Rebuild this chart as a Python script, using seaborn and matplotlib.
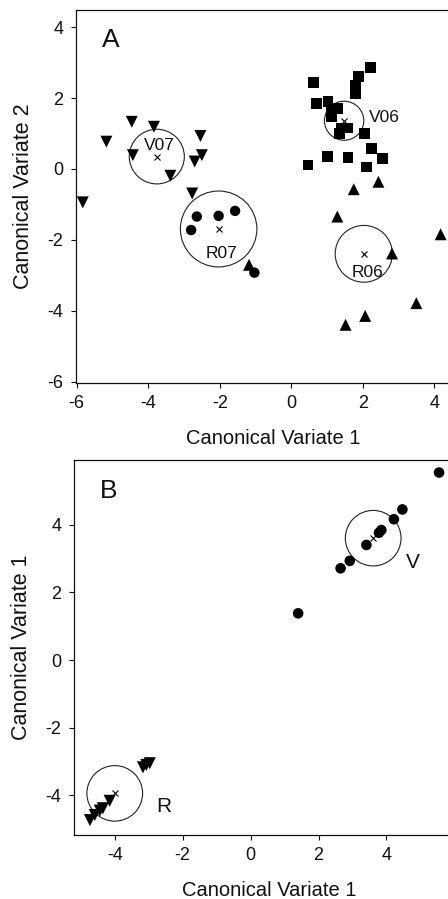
import numpy as np
import pandas as pd
import matplotlib
matplotlib.use("Agg")
import matplotlib.pyplot as plt
from matplotlib.patches import Circle
import seaborn as sns

# ---------------- Data: panel A ----------------
a_v07_x = [-5.83, -5.17, -4.46, -4.43, -3.84, -3.38, -2.70, -2.54, -2.50, -2.77]
a_v07_y = [-0.94, 0.77, 1.33, 0.39, 1.19, -0.19, 0.21, 0.93, 0.39, -0.69]
a_r07_x = [-2.80, -2.64, -2.03, -1.57, -1.03]
a_r07_y = [-1.72, -1.34, -1.32, -1.18, -2.92]
a_v06_x = [2.21, 1.89, 1.80, 1.80, 0.63, 0.70, 1.03, 1.12, 1.31, 1.12,
           1.40, 1.59, 1.35, 2.05, 2.24, 2.56, 1.01, 1.59, 2.10, 0.47]
a_v06_y = [2.86, 2.60, 2.37, 2.13, 2.44, 1.85, 1.90, 1.66, 1.71, 1.47,
           1.15, 1.15, 1.00, 1.00, 0.58, 0.30, 0.35, 0.32, 0.06, 0.11]
a_r06_x = [1.75, 2.44, 1.29, 2.82, 4.18, 3.50, 2.07, 1.52, -1.18]
a_r06_y = [-0.57, -0.36, -1.34, -2.38, -1.84, -3.78, -4.14, -4.39, -2.70]

a_groups = ["V07", "R07", "V06", "R06"]
a_cent_x = [-3.76, -2.03, 1.48, 2.03]
a_cent_y = [0.35, -1.69, 1.36, -2.39]
a_radius = [0.77, 1.07, 0.55, 0.80]
a_label_x = [-3.69, -1.96, 2.61, 2.14]
a_label_y = [0.65, -2.37, 1.46, -2.92]

# ---------------- Data: panel B ----------------
b_v_x = [1.40, 2.65, 2.92, 3.41, 3.78, 3.85, 4.22, 4.47, 5.55]
b_v_y = [1.38, 2.71, 2.93, 3.40, 3.76, 3.84, 4.16, 4.45, 5.54]
b_r_x = [-4.73, -4.59, -4.44, -4.35, -4.15, -3.17, -3.07, -2.97]
b_r_y = [-4.73, -4.58, -4.45, -4.38, -4.16, -3.17, -3.10, -3.05]

b_groups = ["V", "R"]
b_cent_x = [3.61, -4.00]
b_cent_y = [3.60, -3.94]
b_radius = [0.82, 0.82]
b_label_x = [4.78, -2.55]
b_label_y = [2.87, -4.32]

ticks_a_x = [-6, -4, -2, 0, 2, 4]
ticks_a_y = [-6, -4, -2, 0, 2, 4]
ticks_b_x = [-4, -2, 0, 2, 4]
ticks_b_y = [-4, -2, 0, 2, 4]

# ---------------- Style ----------------
sns.set_style("ticks")
plt.rcParams["font.family"] = ["Liberation Sans", "DejaVu Sans"]
plt.rcParams["axes.linewidth"] = 0.9
plt.rcParams["xtick.major.width"] = 0.8
plt.rcParams["ytick.major.width"] = 0.8

fig = plt.figure(figsize=(4.48, 8.99), dpi=100)
W, H = 448.0, 899.0

# Panel A axes: left 76px, top 10px, bottom 383px; 35.75 px per x unit
a_xlim = (-6.02, 5.0)
a_ylim = (-6.03, 4.48)
a_w = (a_xlim[1] - a_xlim[0]) * 35.75
axA = fig.add_axes([76 / W, (H - 383) / H, a_w / W, 373 / H])

# Panel B axes: left 74px, top 460px, bottom 835px; 33.96 px per x unit
b_xlim = (-5.2, 6.3)
b_ylim = (-5.17, 5.91)
b_w = (b_xlim[1] - b_xlim[0]) * 33.96
axB = fig.add_axes([74 / W, (H - 835) / H, b_w / W, 375 / H])

dfA = pd.concat([
    pd.DataFrame({"x": a_v07_x, "y": a_v07_y, "g": "V07"}),
    pd.DataFrame({"x": a_r07_x, "y": a_r07_y, "g": "R07"}),
    pd.DataFrame({"x": a_v06_x, "y": a_v06_y, "g": "V06"}),
    pd.DataFrame({"x": a_r06_x, "y": a_r06_y, "g": "R06"}),
], ignore_index=True)
markA = {"V07": "v", "R07": "o", "V06": "s", "R06": "^"}
sizeA = {"V07": 74, "R07": 56, "V06": 58, "R06": 74}
for g in a_groups:
    sub = dfA[dfA["g"] == g]
    sns.scatterplot(data=sub, x="x", y="y", marker=markA[g], s=sizeA[g],
                    color="black", edgecolor="none", linewidth=0,
                    legend=False, ax=axA, zorder=3, clip_on=False)

dfB = pd.concat([
    pd.DataFrame({"x": b_v_x, "y": b_v_y, "g": "V"}),
    pd.DataFrame({"x": b_r_x, "y": b_r_y, "g": "R"}),
], ignore_index=True)
markB = {"V": "o", "R": "v"}
sizeB = {"V": 58, "R": 76}
for g in b_groups:
    sub = dfB[dfB["g"] == g]
    sns.scatterplot(data=sub, x="x", y="y", marker=markB[g], s=sizeB[g],
                    color="black", edgecolor="none", linewidth=0,
                    legend=False, ax=axB, zorder=3, clip_on=False)


def decorate(ax, groups, cx, cy, rad, lx, ly, fs):
    for g, x0, y0, r, tx, ty in zip(groups, cx, cy, rad, lx, ly):
        ax.add_patch(Circle((x0, y0), r, fill=False, edgecolor="#222222",
                            linewidth=0.8, zorder=2))
        ax.plot([x0], [y0], marker="x", color="black", markersize=5,
                markeredgewidth=0.8, linestyle="none", zorder=4)
        ax.text(tx, ty, g, ha="center", va="center", fontsize=fs,
                color="#111111", zorder=5)


decorate(axA, a_groups, a_cent_x, a_cent_y, a_radius, a_label_x, a_label_y, 12.5)
decorate(axB, b_groups, b_cent_x, b_cent_y, b_radius, b_label_x, b_label_y, 15)

for ax, xl, yl, tx, ty, ylab, letter, lpos in [
    (axA, a_xlim, a_ylim, ticks_a_x, ticks_a_y, "Canonical Variate 2", "A", (-5.06, 3.63)),
    (axB, b_xlim, b_ylim, ticks_b_x, ticks_b_y, "Canonical Variate 1", "B", (-4.17, 5.0)),
]:
    ax.set_xlim(*xl)
    ax.set_ylim(*yl)
    ax.set_xticks(tx)
    ax.set_yticks(ty)
    ax.set_xticklabels([str(t) for t in tx])
    ax.set_yticklabels([str(t) for t in ty])
    ax.tick_params(direction="out", length=3.5, pad=5.5, labelsize=13,
                   colors="#111111")
    ax.set_xlabel("Canonical Variate 1", fontsize=14.5, labelpad=12, color="#111111")
    ax.set_ylabel(ylab, fontsize=15.5, labelpad=10, color="#111111")
    for sp in ax.spines.values():
        sp.set_color("#111111")
    ax.text(lpos[0], lpos[1], letter, ha="center", va="center", fontsize=19,
            color="#111111")

fig.savefig("out.png", dpi=100)
